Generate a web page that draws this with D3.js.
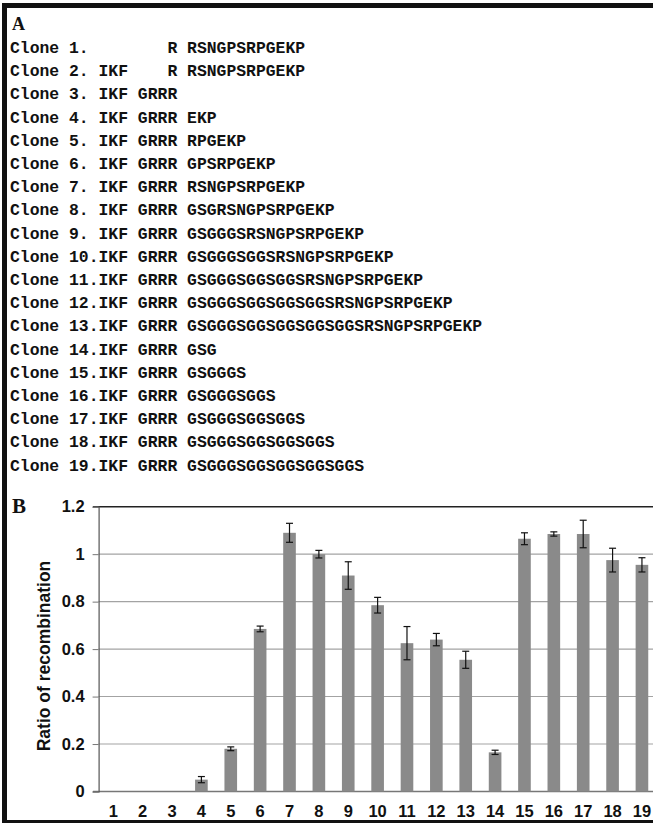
<!DOCTYPE html>
<html>
<head>
<meta charset="utf-8">
<script src="https://cdn.jsdelivr.net/npm/d3@7"></script>
<style>
  html, body { margin: 0; padding: 0; background: #fff; }
  svg { display: block; }
</style>
</head>
<body>
<script>
// ---------- DATA ----------
const cloneLines = [
  "Clone 1.        R RSNGPSRPGEKP",
  "Clone 2. IKF    R RSNGPSRPGEKP",
  "Clone 3. IKF GRRR",
  "Clone 4. IKF GRRR EKP",
  "Clone 5. IKF GRRR RPGEKP",
  "Clone 6. IKF GRRR GPSRPGEKP",
  "Clone 7. IKF GRRR RSNGPSRPGEKP",
  "Clone 8. IKF GRRR GSGRSNGPSRPGEKP",
  "Clone 9. IKF GRRR GSGGGSRSNGPSRPGEKP",
  "Clone 10.IKF GRRR GSGGGSGGSRSNGPSRPGEKP",
  "Clone 11.IKF GRRR GSGGGSGGSGGSRSNGPSRPGEKP",
  "Clone 12.IKF GRRR GSGGGSGGSGGSGGSRSNGPSRPGEKP",
  "Clone 13.IKF GRRR GSGGGSGGSGGSGGSGGSRSNGPSRPGEKP",
  "Clone 14.IKF GRRR GSG",
  "Clone 15.IKF GRRR GSGGGS",
  "Clone 16.IKF GRRR GSGGGSGGS",
  "Clone 17.IKF GRRR GSGGGSGGSGGS",
  "Clone 18.IKF GRRR GSGGGSGGSGGSGGS",
  "Clone 19.IKF GRRR GSGGGSGGSGGSGGSGGS"
];
const categories = ["1","2","3","4","5","6","7","8","9","10","11","12","13","14","15","16","17","18","19"];
const values = [0, 0, 0, 0.05, 0.18, 0.685, 1.09, 1.0, 0.91, 0.785, 0.625, 0.64, 0.555, 0.165, 1.065, 1.085, 1.085, 0.975, 0.955];
const errors = [0, 0, 0, 0.013, 0.008, 0.012, 0.04, 0.016, 0.058, 0.033, 0.07, 0.026, 0.036, 0.009, 0.025, 0.009, 0.058, 0.05, 0.03];
const yTicks = [0, 0.2, 0.4, 0.6, 0.8, 1, 1.2];
const yTitle = "Ratio of recombination";

// ---------- LAYOUT ----------
const W = 653, H = 823;
const svg = d3.select("body").append("svg").attr("width", W).attr("height", H);
svg.append("rect").attr("width", W).attr("height", H).attr("fill", "#fff");

// frame
svg.append("rect").attr("x", 2).attr("y", 3).attr("width", 5).attr("height", H - 3).attr("fill", "#111");
svg.append("rect").attr("x", 2).attr("y", 3).attr("width", W - 2).attr("height", 5).attr("fill", "#111");
svg.append("rect").attr("x", 2).attr("y", 820).attr("width", W - 2).attr("height", 3).attr("fill", "#111");

// ---------- PANEL A ----------
svg.append("text").attr("x", 12).attr("y", 30)
  .attr("font-family", "Liberation Serif, serif").attr("font-weight", "bold")
  .attr("font-size", 18).attr("fill", "#111").text("A");

const lineY = d3.scalePoint().domain(d3.range(cloneLines.length)).range([53, 53 + 23.2 * 18]);
svg.append("g").selectAll("text").data(cloneLines).join("text")
  .attr("x", 10)
  .attr("y", (d, i) => lineY(i))
  .attr("font-family", "Liberation Mono, Courier New, monospace")
  .attr("font-weight", "bold")
  .attr("font-size", 16.4)
  .attr("fill", "#111")
  .style("white-space", "pre")
  .text(d => d);

// ---------- PANEL B ----------
svg.append("text").attr("x", 12).attr("y", 513)
  .attr("font-family", "Liberation Serif, serif").attr("font-weight", "bold")
  .attr("font-size", 21).attr("fill", "#111").text("B");

const x0 = 98.6, step = 29.37;
const x = d3.scaleBand().domain(categories).range([x0, x0 + step * categories.length]).paddingInner(0.57).paddingOuter(0.285);
const y = d3.scaleLinear().domain([0, 1.2]).range([791.5, 506.7]);

// gridlines
svg.append("g").selectAll("line").data(yTicks.filter(t => t > 0 && t < 1.2)).join("line")
  .attr("x1", x0).attr("x2", W).attr("y1", d => y(d)).attr("y2", d => y(d))
  .attr("stroke", "#a3a3a3").attr("stroke-width", 1.1);
// top line
svg.append("line").attr("x1", 93).attr("x2", W).attr("y1", y(1.2)).attr("y2", y(1.2))
  .attr("stroke", "#222").attr("stroke-width", 1.4);
// baseline
svg.append("line").attr("x1", 93).attr("x2", W).attr("y1", y(0)).attr("y2", y(0))
  .attr("stroke", "#777").attr("stroke-width", 1.4);

// y axis
const yAxis = d3.axisLeft(y).tickValues(yTicks).tickSize(6).tickPadding(8)
  .tickFormat(d => d === 0 ? "0" : d === 1 ? "1" : d3.format(".1f")(d));
const gy = svg.append("g").attr("transform", `translate(${x0},0)`).call(yAxis);
gy.select(".domain").attr("stroke", "#555").attr("stroke-width", 1.2);
gy.selectAll(".tick line").attr("stroke", "#777");
gy.selectAll(".tick text").attr("font-family", "Liberation Sans, Arial, sans-serif")
  .attr("font-weight", "bold").attr("font-size", 16.5).attr("fill", "#111");

svg.append("text")
  .attr("transform", `translate(50,656) rotate(-90)`)
  .attr("text-anchor", "middle")
  .attr("font-family", "Liberation Sans, Arial, sans-serif")
  .attr("font-weight", "bold")
  .attr("font-size", 17.5).attr("fill", "#111")
  .text(yTitle);

// bars
svg.append("g").selectAll("rect").data(values).join("rect")
  .attr("x", (d, i) => x(categories[i]))
  .attr("width", x.bandwidth())
  .attr("y", d => y(d))
  .attr("height", d => y(0) - y(d))
  .attr("fill", "#8a8a8a");

// error bars
const eb = svg.append("g").attr("stroke", "#111").attr("stroke-width", 1.2);
values.forEach((v, i) => {
  if (errors[i] <= 0) return;
  const cx = x(categories[i]) + x.bandwidth() / 2;
  eb.append("line").attr("x1", cx).attr("x2", cx).attr("y1", y(v - errors[i])).attr("y2", y(v + errors[i]));
  eb.append("line").attr("x1", cx - 3.5).attr("x2", cx + 3.5).attr("y1", y(v + errors[i])).attr("y2", y(v + errors[i]));
  eb.append("line").attr("x1", cx - 3.5).attr("x2", cx + 3.5).attr("y1", y(v - errors[i])).attr("y2", y(v - errors[i]));
});

// x labels
const xAxis = d3.axisBottom(x).tickSize(0).tickPadding(14);
const gx = svg.append("g").attr("transform", `translate(0,${y(0)})`).call(xAxis);
gx.select(".domain").remove();
gx.selectAll(".tick text").attr("font-family", "Liberation Sans, Arial, sans-serif")
  .attr("font-weight", "bold").attr("font-size", 16.5).attr("fill", "#111");
</script>
</body>
</html>
